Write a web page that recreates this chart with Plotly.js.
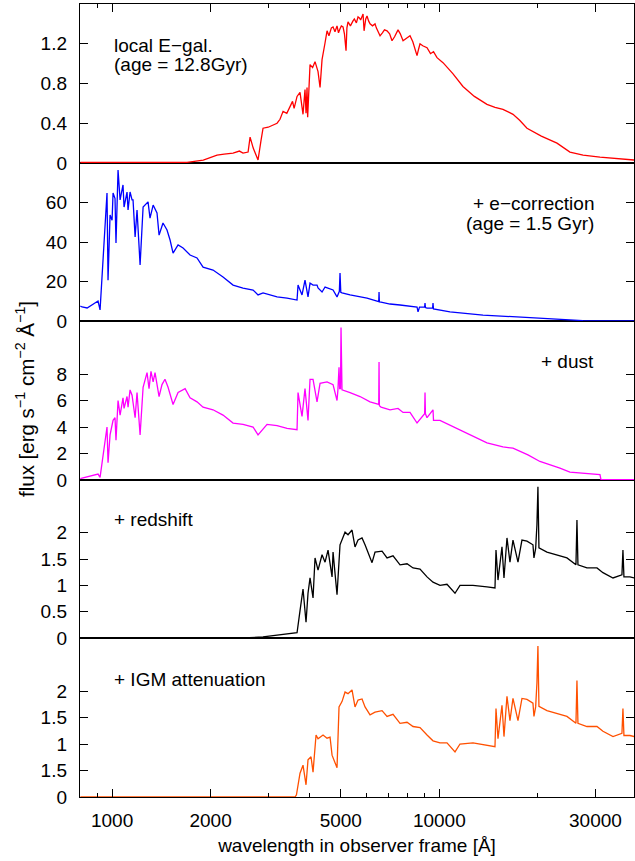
<!DOCTYPE html>
<html>
<head>
<meta charset="utf-8">
<script src="https://cdn.plot.ly/plotly-3.0.1.min.js"></script>
<style>html,body{margin:0;padding:0;background:#fff;}#chart{width:635px;height:861px;}</style>
</head>
<body>
<div id="chart"></div>
<script>
// ---------- data (wavelength in Å, flux in erg s^-1 cm^-2 Å^-1) ----------
const lamLocal = [800,1000,1300,1500,1695,1900,2093,2200,2343,2450,2513,2604,2641,2700,2793,2850,2893,3000,3100,3193,3260,3331,3420,3499,3560,3600,3675,3753,3806,3833,3887,3915,3943,3960,4027,4100,4171,4260,4321,4382,4476,4539,4600,4680,4734,4800,4869,4920,4973,5020,5079,5130,5188,5220,5261,5350,5449,5500,5580,5645,5700,5750,5848,5890,5960,6014,6080,6143,6250,6362,6420,6500,6591,6700,6800,6922,7050,7170,7300,7479,7600,7748,7900,8138,8300,8549,8650,8730,8900,9172,9400,9600,9840,10264,11000,11812,12800,13984,14800,15651,16800,17600,18535,20500,22890,25077,27500,30974,39400];
const fluxLocal = [0.005,0.005,0.004,0.003,0.007,0.03,0.08,0.09,0.10,0.12,0.10,0.11,0.26,0.15,0.03,0.22,0.35,0.36,0.38,0.40,0.44,0.52,0.50,0.57,0.62,0.55,0.67,0.71,0.54,0.49,0.74,0.50,0.76,0.46,0.99,0.96,1.02,0.92,0.76,1.04,1.21,1.33,1.28,1.36,1.37,1.32,1.38,1.31,1.35,1.38,1.37,1.30,1.13,1.36,1.42,1.38,1.43,1.45,1.41,1.47,1.46,1.44,1.50,1.33,1.45,1.48,1.43,1.40,1.38,1.40,1.36,1.32,1.28,1.31,1.34,1.33,1.30,1.23,1.27,1.34,1.30,1.23,1.25,1.28,1.22,1.08,1.15,1.20,1.18,1.16,1.10,1.12,1.06,1.01,0.90,0.77,0.67,0.59,0.56,0.54,0.49,0.43,0.35,0.27,0.20,0.11,0.08,0.06,0.03];

const lamEcorr = [800,810,839,906,919,965,972,986,1000,1007,1021,1028,1043,1058,1080,1088,1111,1119,1135,1151,1159,1176,1192,1218,1244,1288,1306,1335,1372,1392,1431,1472,1504,1536,1591,1648,1731,1818,1897,2035,2183,2343,2513,2697,2793,2893,3193,3426,3675,3701,3806,3887,3970,4027,4113,4230,4260,4382,4476,4735,4869,4950,4973,5000,5043,5336,6014,6498,6530,6544,6560,6637,7071,7586,8550,8610,8700,9020,9044,9070,9172,9540,9567,9600,10782,13599,17274,21782,27477,39400];
const fluxEcorr = [7.5,7.1,6.6,10.1,5.6,64.8,20.7,53.7,51,64.8,62,39.5,76.4,61.3,68.9,57.7,65.3,56.2,65.3,61.3,61.3,42.5,56.2,28.4,57.7,60.3,52.1,58.7,54.7,43.5,49.6,46.1,41,34.4,38.5,37,33.4,31.9,27.3,25.8,22.3,18.2,16.7,15.7,13.2,14.2,12.2,11.6,10.6,18.2,13.2,20.7,12.2,19.2,18.2,18.2,16.7,14.7,17.2,15.7,12.2,15,24.3,14.5,14.2,13.2,11.6,9.6,9.8,14.7,9.7,9.6,8.6,8.1,7.1,4.6,7.0,7.0,9.1,6.8,6.5,6.6,9.1,6.1,4.6,3.0,2.0,1.0,0.2,0.05];

const lamDust = [800,810,906,919,965,972,986,1007,1021,1028,1043,1058,1080,1088,1111,1119,1135,1151,1176,1192,1218,1244,1279,1297,1315,1335,1353,1392,1421,1451,1483,1536,1591,1672,1731,1818,1897,2035,2183,2343,2513,2697,2793,2976,3193,3426,3675,3701,3806,3887,3970,4027,4113,4230,4321,4539,4735,4869,4900,4938,4960,4990,5008,5030,5043,5336,5725,6142,6498,6530,6544,6560,6637,7071,7480,7748,8139,8550,9020,9044,9070,9172,9567,9600,10049,11568,13987,15654,16794,18661,20302,23370,25076,30974,31192,39400];
const fluxDust = [0.1,0.15,0.45,0.2,4.0,1.3,3.4,4.5,4.7,3.0,6.0,4.9,6.2,5.4,6.3,5.5,6.8,6.4,4.7,6.6,3.4,7.0,8.1,6.9,8.2,7.4,8.1,6.3,7.2,7.6,7.0,5.7,6.6,6.9,6.2,5.9,5.5,5.3,4.9,4.3,4.2,4.0,3.4,4.2,4.1,3.9,3.8,6.6,4.8,6.9,4.5,7.6,7.6,5.9,7.3,7.4,7.2,6.0,6.8,8.5,6.9,6.9,11.5,6.9,6.8,6.6,6.3,5.9,5.7,5.7,8.9,5.6,5.5,5.3,5.4,5.1,5.1,4.3,5.0,6.6,5.0,4.7,5.3,4.5,4.5,3.8,2.8,2.5,2.4,1.9,1.4,0.9,0.6,0.4,0.03,0.03];

const lamRedshift = [800,2500,2893,3331,3675,3753,3833,3915,3970,4027,4113,4171,4260,4382,4476,4571,4702,4735,4869,4973,5152,5261,5411,5526,5645,5806,5930,6229,6362,6684,6923,7221,7586,7969,8313,8732,9172,9567,10049,10556,11168,11568,12675,13987,14798,14902,15113,15544,15764,16100,16443,16794,17396,17890,18531,19329,19465,19700,19878,20018,20160,21327,22882,24553,26157,26342,26528,28262,30327,31634,33948,36153,36408,36666,38243,39400];
const fluxRedshift = [0,0,0.02,0.06,0.10,0.52,0.93,0.30,0.85,1.14,0.76,1.52,1.29,1.58,1.44,1.67,1.16,1.63,0.82,1.77,2.01,1.96,2.05,1.73,1.86,1.90,1.77,1.43,1.63,1.65,1.52,1.56,1.39,1.41,1.33,1.31,1.16,1.06,1.00,1.02,0.85,1.00,1.00,0.97,0.95,1.67,1.10,1.73,1.14,1.90,1.44,1.86,1.44,1.86,1.84,1.77,1.52,1.70,2.15,2.87,1.71,1.63,1.58,1.52,1.39,2.24,1.39,1.33,1.33,1.24,1.14,1.20,1.67,1.16,1.16,1.14];

const lamIGM = [800,3624,3660,3753,3833,3915,3970,4055,4113,4201,4260,4413,4539,4636,4702,4869,4938,5043,5152,5261,5411,5526,5645,5806,5930,6142,6362,6684,6923,7221,7586,7969,8313,8732,9172,9567,10049,10556,11168,11568,12675,13987,14798,14902,15113,15544,15764,16100,16443,16794,17396,17890,18531,19329,19465,19700,19878,20018,20160,21327,22882,24553,26157,26342,26528,28262,30327,31634,33948,36153,36408,36666,38243,39400];
const fluxIGM = [0,0,0.04,0.45,0.60,0.23,0.70,0.76,0.47,1.17,1.10,1.17,1.11,1.13,0.79,0.55,1.70,1.80,1.98,1.95,2.02,1.70,1.83,1.85,1.70,1.55,1.60,1.63,1.52,1.56,1.39,1.41,1.33,1.31,1.17,1.06,1.02,1.02,0.85,1.00,1.02,0.97,0.95,1.67,1.10,1.73,1.14,1.90,1.44,1.86,1.44,1.86,1.84,1.77,1.52,1.70,2.15,2.85,1.71,1.63,1.58,1.52,1.39,2.20,1.39,1.33,1.33,1.24,1.14,1.20,1.67,1.16,1.16,1.14];

const xTickVals = [1000,2000,5000,10000,30000];
const xTickText = ['1000','2000','5000','10000','30000'];
const xMinorVals = [900,3000,4000,6000,7000,8000,9000,20000];

const panelLabels = ['local E\u2212gal.','(age = 12.8Gyr)','+ e\u2212correction','(age = 1.5 Gyr)','+ dust','+ redshift','+ IGM attenuation'];
const y1Ticks = [0,0.4,0.8,1.2];
const y2Ticks = [0,20,40,60];
const y3Ticks = [0,2,4,6,8];
const y4Ticks = [0,0.5,1,1.5,2];
const y4Text = ['0','0.5','1','1.5','2'];
const y5Ticks = [0,0.5,1,1.5,2];
const y5Text = ['0','1.5','1','1.5','2'];

// ---------- layout ----------
const FONT = 'Liberation Sans, Arial, Helvetica, sans-serif';
const FS = 19;
const LW = 1.3;

const traces = [
  {x: lamLocal, y: fluxLocal, xaxis:'x5', yaxis:'y5', color:'#ff0000'},
  {x: lamEcorr, y: fluxEcorr, xaxis:'x4', yaxis:'y4', color:'#0000ff'},
  {x: lamDust, y: fluxDust, xaxis:'x3', yaxis:'y3', color:'#ff00ff'},
  {x: lamRedshift, y: fluxRedshift, xaxis:'x2', yaxis:'y2', color:'#000000'},
  {x: lamIGM, y: fluxIGM, xaxis:'x', yaxis:'y', color:'#ff5000'}
].map(t => ({x:t.x, y:t.y, xaxis:t.xaxis, yaxis:t.yaxis, type:'scatter', mode:'lines',
  line:{color:t.color, width:LW}, hoverinfo:'skip', showlegend:false}));

// plot area: y from 4px to 797px (793 px tall), panel boundaries at 163, 321, 480, 638
const H = 793;
const b = [797, 638, 480, 321, 163, 4].map(v => (797 - v) / H);
const XR = [2.902, 4.595];

function xAxis(opts) {
  return Object.assign({type:'log', range:XR, showline:true, linecolor:'#000', linewidth:1.2,
    mirror:true, showgrid:false, zeroline:false, ticks:'', showticklabels:false, fixedrange:true}, opts);
}
function yAxis(dom, range, vals, text, anchor) {
  return {domain:[dom[0], dom[1]], range:range, tickmode:'array', tickvals:vals, ticktext:text || vals.map(String),
    ticks:'inside', ticklen:8, tickwidth:1, tickcolor:'#000', mirror:'ticks', showline:true, linecolor:'#000', linewidth:1.2,
    showgrid:false, zeroline:false, anchor:anchor, fixedrange:true, ticklabelstandoff:8,
    tickfont:{family:FONT, size:FS, color:'#000'}};
}

const minorSpec = {tickvals:xMinorVals, ticklen:4, ticks:'inside', tickcolor:'#000', showgrid:false, tickwidth:1};

const layout = {
  width:635, height:861,
  margin:{l:80, r:1, t:4, b:64},
  paper_bgcolor:'#fff', plot_bgcolor:'#fff',
  font:{family:FONT, size:FS, color:'#000'},
  xaxis: xAxis({anchor:'y', ticks:'inside', ticklen:8, tickwidth:1, tickcolor:'#000', showticklabels:true,
    tickmode:'array', tickvals:xTickVals, ticktext:xTickText, minor:minorSpec, ticklabelstandoff:6,
    tickfont:{family:FONT, size:FS, color:'#000'},
    title:{text:'wavelength in observer frame [\u00c5]', font:{family:FONT, size:FS, color:'#000'}, standoff:8}}),
  xaxis2: xAxis({anchor:'y2', matches:'x'}),
  xaxis3: xAxis({anchor:'y3', matches:'x'}),
  xaxis4: xAxis({anchor:'y4', matches:'x'}),
  xaxis5: xAxis({anchor:'y5', matches:'x', side:'top', ticks:'inside', ticklen:8, tickwidth:1, tickcolor:'#000',
    tickmode:'array', tickvals:xTickVals, minor:minorSpec}),
  yaxis:  yAxis([b[0], b[1]], [0, 3], y5Ticks, y5Text, 'x'),
  yaxis2: yAxis([b[1], b[2]], [0, 3], y4Ticks, y4Text, 'x2'),
  yaxis3: yAxis([b[2], b[3]], [0, 12], y3Ticks, null, 'x3'),
  yaxis4: yAxis([b[3], b[4]], [0, 80], y2Ticks, null, 'x4'),
  yaxis5: yAxis([b[4], b[5]], [0, 1.6], y1Ticks, null, 'x5'),
  annotations: []
};

function px2paperX(px) { return (px - 80) / 554; }
function px2paperY(py) { return (797 - py) / H; }
const labelPos = [
  [113, 45, 'left'], [113, 65, 'left'],
  [595, 203.5, 'right'], [595, 223.5, 'right'],
  [595, 362, 'right'],
  [113, 520, 'left'],
  [113, 679, 'left']
];
panelLabels.forEach((txt, i) => {
  const p = labelPos[i];
  layout.annotations.push({text:txt, xref:'paper', yref:'paper', x:px2paperX(p[0]), y:px2paperY(p[1]),
    xanchor:p[2], yanchor:'middle', showarrow:false, borderpad:0,
    font:{family:FONT, size:FS, color:'#000'}});
});
// y-axis title as rotated annotation
layout.annotations.push({text:'flux [erg s<sup>\u22121</sup> cm<sup>\u22122</sup> \u00c5<sup>\u22121</sup>]',
  xref:'paper', yref:'paper', x:px2paperX(25), y:px2paperY(399), xanchor:'center', yanchor:'middle',
  textangle:-90, showarrow:false, font:{family:FONT, size:20.5, color:'#000'}});

Plotly.newPlot('chart', traces, layout, {staticPlot:true, displayModeBar:false});
</script>
</body>
</html>
